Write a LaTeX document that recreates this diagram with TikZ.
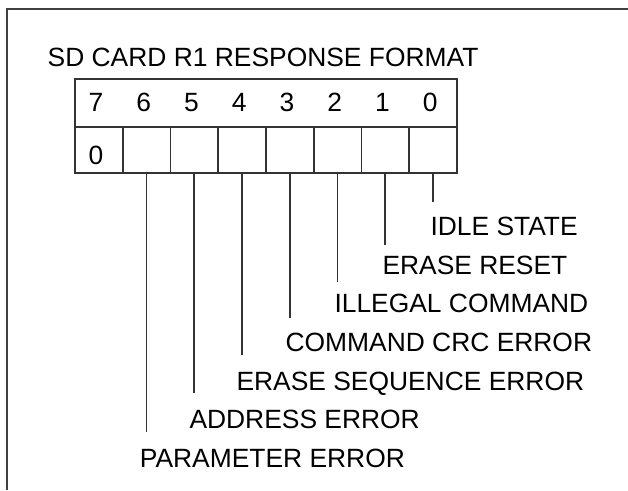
\documentclass[tikz,border=0pt]{standalone}
\usepackage{fontspec}
\setmainfont{Liberation Sans}
\begin{document}
\begin{tikzpicture}[x=1pt,y=-1pt,
  ln/.style={line width=1.8pt, draw=black!80},
  cellbox/.style={ln, inner sep=0pt, anchor=north west, minimum width=47.75pt, minimum height=46pt},
  txt/.style={inner sep=0pt, font=\fontsize{26.4}{30}\selectfont, text=black},
  lbl/.style={txt, anchor=base west},
  dig/.style={txt, anchor=base}]
\useasboundingbox (0,0) rectangle (628,490);
% frame
\draw[ln, line width=2.2pt, draw=black!75] (7.3,490) -- (7.3,9) -- (628,9);
% title
\node[lbl] (title) at (47.5,66.5) {SD CARD R1 RESPONSE FORMAT};
% register
\node[cellbox, minimum width=382pt, minimum height=48pt] (top) at (74,78) {};
\foreach \i in {0,...,7} {
  \node[cellbox] (b\i) at ({74+(7-\i)*47.75},126) {};
  \node[dig] (d\i) at ({74+(7.5-\i)*47.75-2},111.5) {\i};
}
\node[dig] (z7) at ({74+0.5*47.75-2},164) {0};
% labels
\node[lbl] (l0) at (430.3,235.3) {IDLE STATE};
\node[lbl] (l1) at (382.3,274.0) {ERASE RESET};
\node[lbl] (l2) at (334.3,312.7) {ILLEGAL COMMAND};
\node[lbl] (l3) at (285.4,351.4) {COMMAND CRC ERROR};
\node[lbl] (l4) at (236.3,390.1) {ERASE SEQUENCE ERROR};
\node[lbl] (l5) at (189.3,428.8) {ADDRESS ERROR};
\node[lbl] (l6) at (139.7,467.5) {PARAMETER ERROR};
% line ends
\coordinate (e0) at (0,202);
\coordinate (e1) at (0,245);
\coordinate (e2) at (0,282);
\coordinate (e3) at (0,318);
\coordinate (e4) at (0,355);
\coordinate (e5) at (0,393);
\coordinate (e6) at (0,432);
\foreach \i in {0,...,6} {
  \draw[ln] (b\i.south) -- (b\i.south |- e\i);
}
\end{tikzpicture}
\end{document}
